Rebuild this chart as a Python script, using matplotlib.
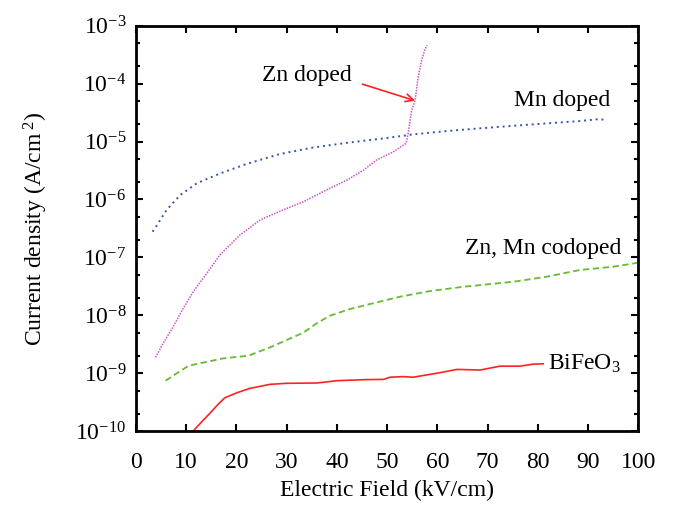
import numpy as np
import matplotlib.pyplot as plt
from matplotlib.ticker import LogLocator, FixedLocator, FuncFormatter

# 폰트 설정 (Times 계열)
plt.rcParams['font.family'] = ['Liberation Serif', 'DejaVu Serif']
plt.rcParams['mathtext.fontset'] = 'custom'
plt.rcParams['mathtext.rm'] = 'Liberation Serif'
plt.rcParams['mathtext.it'] = 'Liberation Serif:italic'

FS = 17

# BiFeO3
bfo_x = [11.4, 13.1, 14.7, 16.4, 17.7, 20.1, 22.7, 26.7, 30.0, 36.0, 40.0, 45.3,
         49.3, 50.6, 53.2, 55.2, 60.6, 63.9, 68.5, 72.5, 76.5, 79.1, 81.1]
bfo_j = [1.0e-10, 1.45e-10, 2.02e-10, 2.93e-10, 3.76e-10, 4.58e-10, 5.46e-10, 6.4e-10,
         6.67e-10, 6.75e-10, 7.4e-10, 7.7e-10, 7.8e-10, 8.5e-10, 8.7e-10, 8.5e-10,
         1.02e-9, 1.16e-9, 1.13e-9, 1.32e-9, 1.32e-9, 1.43e-9, 1.45e-9]

# Zn, Mn codoped
co_x = [5.9, 8.1, 10.4, 12.1, 17.4, 22.4, 26.7, 30.0, 33.3, 36.0, 38.6, 42.6, 46.6,
        50.6, 52.6, 58.6, 65.2, 75.2, 81.8, 88.4, 95.1, 100.0]
co_j = [7.4e-10, 9.9e-10, 1.33e-9, 1.44e-9, 1.8e-9, 2.0e-9, 2.79e-9, 3.73e-9, 4.99e-9,
        7.25e-9, 9.8e-9, 1.28e-8, 1.56e-8, 1.9e-8, 2.09e-8, 2.62e-8, 3.1e-8, 3.79e-8,
        4.63e-8, 6.04e-8, 6.9e-8, 8.07e-8]

# Zn doped
zn_x = [3.9, 5.4, 7.4, 9.4, 11.4, 14.1, 16.7, 20.7, 24.7, 25.4, 29.3, 33.3, 38.6,
        42.0, 45.3, 47.9, 51.3, 53.8, 54.2, 54.9, 55.6, 56.2, 56.9, 57.6, 58.0]
zn_j = [1.87e-9, 3.27e-9, 6.3e-9, 1.31e-8, 2.55e-8, 5.3e-8, 1.1e-7, 2.43e-7, 4.4e-7,
        4.7e-7, 6.6e-7, 9.1e-7, 1.56e-6, 2.16e-6, 3.2e-6, 4.8e-6, 6.7e-6, 9.3e-6,
        1.39e-5, 3.5e-5, 5.2e-5, 1.31e-4, 2.56e-4, 4.07e-4, 4.6e-4]

# Mn doped
mn_x = [3.3, 3.8, 6.1, 8.8, 12.1, 16.7, 22.0, 28.7, 35.3, 42.0, 49.2, 55.2, 61.9,
        68.5, 75.1, 81.8, 88.4, 92.4, 93.4]
mn_j = [2.77e-7, 3.2e-7, 6.6e-7, 1.19e-6, 1.9e-6, 2.8e-6, 4.1e-6, 6.1e-6, 7.9e-6,
        9.5e-6, 1.13e-5, 1.33e-5, 1.52e-5, 1.69e-5, 1.87e-5, 2.06e-5, 2.26e-5,
        2.45e-5, 2.35e-5]

fig = plt.figure(figsize=(6.74, 5.05), dpi=100)
ax = fig.add_axes([0.2018, 0.1465, 0.745, 0.8025])

ax.plot(bfo_x, bfo_j, color='#ff2222', lw=1.2, ls='-')
ax.plot(co_x, co_j, color='#66bb33', lw=1.3, ls=(0, (3.5, 2)))
ax.plot(zn_x, zn_j, color='#cc55cc', lw=1.1, ls=(0, (1, 0.8)))
ax.plot(mn_x, mn_j, color='#3355aa', lw=1.4, ls=(0, (1, 2)))

ax.set_yscale('log')
ax.set_xlim(0, 100)
ax.set_ylim(1e-10, 1e-3)

# 눈금 설정
ax.xaxis.set_major_locator(FixedLocator(np.arange(0, 101, 10)))
ax.yaxis.set_major_locator(LogLocator(base=10, numticks=20))
ax.yaxis.set_minor_locator(LogLocator(base=10, subs=(2, 5), numticks=20))
ax.yaxis.set_minor_formatter(FuncFormatter(lambda v, p: ''))
ax.yaxis.set_major_formatter(FuncFormatter(
    lambda v, p: r'10$^{\mathrm{%d}}$' % int(round(np.log10(v)))))

ax.tick_params(which='both', direction='in', top=True, right=True,
               labelsize=FS, width=1.5)
ax.tick_params(which='major', length=5, pad=7)
ax.tick_params(which='minor', length=3)
ax.tick_params(axis='x', which='major', pad=15)
for s in ax.spines.values():
    s.set_linewidth(2)

ax.set_xlabel('Electric Field (kV/cm)', fontsize=FS, labelpad=5)
ax.set_ylabel(r'Current density (A/cm$^{\ 2}$)', fontsize=FS, labelpad=18)

# 라벨 및 화살표
ax.text(34.1, 1.41e-4, 'Zn doped', fontsize=FS, ha='center', va='center')
ax.annotate('', xy=(55.6, 5.07e-5), xytext=(45.1, 9.8e-5),
            arrowprops=dict(arrowstyle='->', color='#ff2222', lw=1.2,
                            shrinkA=0, shrinkB=0, mutation_scale=14))
ax.text(84.9, 5.2e-5, 'Mn doped', fontsize=FS, ha='center', va='center')
ax.text(81.0, 1.43e-7, 'Zn, Mn codoped', fontsize=FS, ha='center', va='center')
ax.text(82.1, 1.45e-9, r'BiFeO$_{3}$', fontsize=FS, ha='left', va='center')

plt.savefig('out.png', dpi=100)
